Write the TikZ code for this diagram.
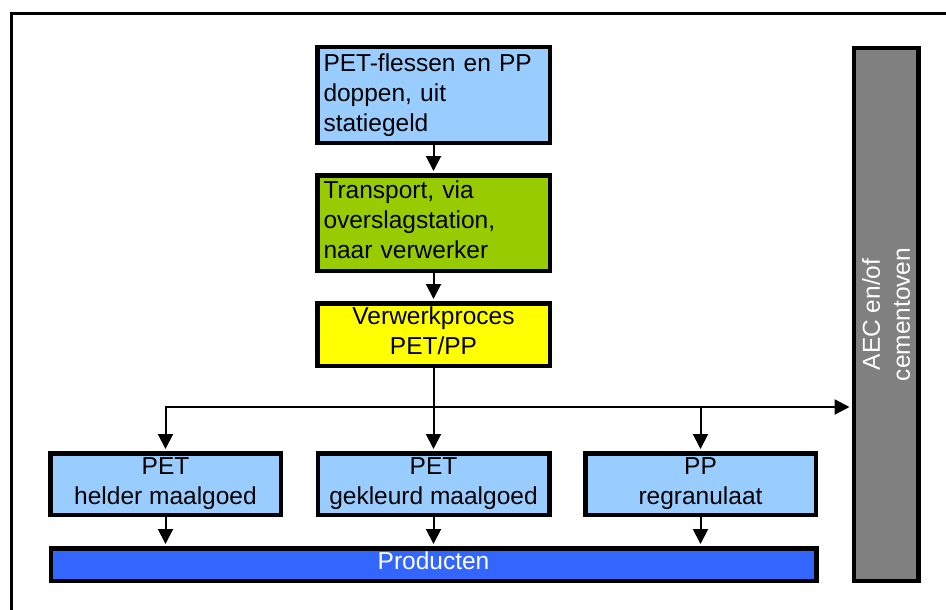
\documentclass[tikz,border=0pt]{standalone}
\usepackage{fontspec}
\setmainfont{Liberation Sans}
\usetikzlibrary{arrows.meta}
\definecolor{lightblue}{HTML}{99CCFF}
\definecolor{leafgreen}{HTML}{99CC00}
\definecolor{brightyellow}{HTML}{FFFF00}
\definecolor{prodblue}{HTML}{3366FF}
\definecolor{midgray}{HTML}{808080}
% invisible strut that lifts a text block a little inside its box
\newcommand{\liftstrut}{\rule[-7pt]{0pt}{0pt}}
\begin{document}
\begin{tikzpicture}[x=1pt,y=-1pt,
  box/.style={draw=black, line width=4.5pt, inner sep=0pt, rectangle,
    font=\fontsize{24.5}{30}\selectfont},
  flow/.style={line width=2pt, -{Triangle[length=15pt,width=15pt]}, shorten >=2pt}]
\useasboundingbox (0,0) rectangle (946,610);
% outer frame (only top and left edges fall inside the page)
\draw[line width=3pt] (11,610) -- (11,14) -- (946,14);

% process chain
\node[box, fill=lightblue, minimum width=232.5pt, minimum height=95.5pt,
  text width=220pt, align=left] (src) at (433.5,95)
  {PET-flessen en PP\\doppen, uit\\statiegeld};
\node[box, fill=leafgreen, minimum width=232.5pt, minimum height=95.5pt,
  text width=220pt, align=left] (trans) at (433.5,223)
  {Transport, via\\overslagstation,\\naar verwerker\liftstrut};
\node[box, fill=brightyellow, minimum width=232.5pt, minimum height=62.5pt,
  align=center] (proc) at (433.5,334.5)
  {Verwerkproces\\PET/PP\liftstrut};

% output fractions
\node[box, fill=lightblue, minimum width=230.5pt, minimum height=61.5pt,
  align=center] (clear) at (165.5,484)
  {PET\\helder maalgoed};
\node[box, fill=lightblue, minimum width=231.5pt, minimum height=61.5pt,
  align=center] (colour) at (433.5,484)
  {PET\\gekleurd maalgoed};
\node[box, fill=lightblue, minimum width=230.5pt, minimum height=61.5pt,
  align=center] (pp) at (700.5,484)
  {PP\\regranulaat};

% products bar and incineration column
\node[box, fill=prodblue, text=white, minimum width=765.5pt, minimum height=32.5pt]
  (prod) at (433.5,564.5) {Producten\liftstrut};
\node[box, fill=midgray, text=white, minimum width=532.5pt, minimum height=64.5pt,
  rotate=90, align=center] (oven) at (886,314.5)
  {AEC en/of\\cementoven};

% connectors
\coordinate (split) at (433.5,407);
\draw[flow] (src) -- (trans);
\draw[flow] (trans) -- (proc);
\draw[flow] (proc) -- (colour);
\draw[flow] (split) -| (clear);
\draw[flow] (split) -| (pp);
\draw[flow, line width=2.4pt] (split) -- (oven.north |- split);
\draw[flow] (clear) -- (clear |- prod.north);
\draw[flow] (colour) -- (colour |- prod.north);
\draw[flow] (pp) -- (pp |- prod.north);
\end{tikzpicture}
\end{document}
